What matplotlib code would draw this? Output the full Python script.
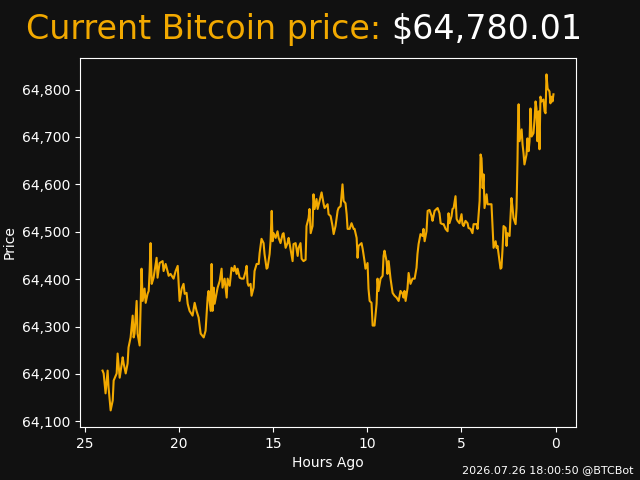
import matplotlib
matplotlib.use("Agg")
import matplotlib.pyplot as plt
from matplotlib.ticker import FuncFormatter

BG = "#111111"
ORANGE = "#f2a900"

current_price = 64780.01
stamp = "2026.07.26 18:00:50 @BTCBot"

# hours ago / price
hours_ago = [
    24.05, 23.99, 23.89, 23.78, 23.73, 23.62, 23.51, 23.46, 23.30, 23.25,
    23.14, 22.98, 22.93, 22.82, 22.72, 22.67, 22.56, 22.45, 22.40, 22.35,
    22.24, 22.19, 22.08, 21.98, 21.92, 21.82, 21.76, 21.66, 21.60, 21.55,
    21.50, 21.44, 21.34, 21.18, 21.13, 21.02, 20.86, 20.81, 20.70, 20.60,
    20.54, 20.44, 20.28, 20.17, 20.06, 20.01, 19.96, 19.85, 19.75, 19.69,
    19.59, 19.53, 19.43, 19.27, 19.16, 19.06, 18.95, 18.84, 18.68, 18.58,
    18.47, 18.42, 18.31, 18.26, 18.21, 18.15, 18.10, 17.94, 17.83, 17.73,
    17.68, 17.57, 17.46, 17.41, 17.30, 17.20, 17.09, 17.04, 16.93, 16.88,
    16.77, 16.67, 16.56, 16.45, 16.40, 16.35, 16.30, 16.19, 16.14, 16.03,
    15.98, 15.87, 15.76, 15.71, 15.61, 15.50, 15.45, 15.34, 15.29, 15.18,
    15.13, 15.07, 15.02, 14.97, 14.86, 14.76, 14.70, 14.60, 14.49, 14.44,
    14.33, 14.23, 14.17, 14.07, 13.96, 13.91, 13.80, 13.69, 13.64, 13.54,
    13.48, 13.38, 13.27, 13.22, 13.11, 13.06, 13.00, 12.90, 12.85, 12.79,
    12.69, 12.63, 12.53, 12.42, 12.31, 12.26, 12.10, 12.05, 11.94, 11.84,
    11.78, 11.68, 11.57, 11.52, 11.41, 11.31, 11.25, 11.15, 11.09, 11.04,
    10.93, 10.83, 10.72, 10.67, 10.56, 10.51, 10.46, 10.30, 10.24, 10.14,
    10.09, 9.98, 9.93, 9.87, 9.77, 9.71, 9.61, 9.50, 9.45, 9.40,
    9.29, 9.18, 9.13, 9.08, 8.97, 8.92, 8.86, 8.76, 8.65, 8.55,
    8.44, 8.33, 8.23, 8.12, 8.07, 8.02, 7.96, 7.86, 7.80, 7.70,
    7.59, 7.48, 7.38, 7.33, 7.27, 7.17, 7.06, 7.01, 6.95, 6.85,
    6.79, 6.69, 6.58, 6.53, 6.42, 6.32, 6.26, 6.16, 6.10, 6.00,
    5.94, 5.84, 5.73, 5.68, 5.63, 5.52, 5.47, 5.41, 5.31, 5.25,
    5.20, 5.10, 4.99, 4.94, 4.88, 4.78, 4.67, 4.62, 4.51, 4.41,
    4.35, 4.19, 4.14, 4.03, 3.98, 3.93, 3.87, 3.82, 3.77, 3.66,
    3.61, 3.50, 3.40, 3.34, 3.29, 3.18, 3.13, 3.08, 2.97, 2.92,
    2.87, 2.81, 2.76, 2.65, 2.60, 2.55, 2.44, 2.39, 2.34, 2.28,
    2.23, 2.12, 2.07, 2.02, 1.99, 1.96, 1.91, 1.80, 1.75, 1.70,
    1.65, 1.54, 1.49, 1.43, 1.38, 1.33, 1.27, 1.17, 1.11, 1.06,
    1.01, 0.96, 0.90, 0.85, 0.80, 0.74, 0.64, 0.58, 0.53, 0.48,
    0.42, 0.32, 0.27, 0.21, 0.16, 0.11,
]
prices = [
    64207, 64201, 64159, 64207, 64171, 64123, 64144, 64186, 64201, 64243,
    64192, 64235, 64222, 64201, 64222, 64256, 64277, 64323, 64277, 64285,
    64354, 64285, 64260, 64422, 64354, 64380, 64350, 64369, 64375, 64417,
    64476, 64390, 64403, 64445, 64403, 64434, 64438, 64417, 64432, 64417,
    64407, 64411, 64401, 64417, 64428, 64390, 64354, 64380, 64390, 64369,
    64371, 64348, 64333, 64323, 64350, 64333, 64319, 64285, 64277, 64291,
    64361, 64375, 64333, 64432, 64333, 64382, 64348, 64382, 64396, 64422,
    64382, 64401, 64361, 64401, 64386, 64424, 64417, 64428, 64411, 64422,
    64403, 64401, 64401, 64417, 64428, 64392, 64386, 64390, 64365, 64382,
    64417, 64432, 64432, 64455, 64485, 64476, 64453, 64422, 64424, 64453,
    64480, 64544, 64480, 64497, 64487, 64501, 64487, 64476, 64495, 64497,
    64466, 64476, 64487, 64464, 64438, 64474, 64476, 64449, 64466, 64476,
    64443, 64438, 64441, 64512, 64529, 64548, 64497, 64512, 64579, 64548,
    64569, 64548, 64565, 64583, 64558, 64550, 64558, 64537, 64533, 64512,
    64495, 64512, 64544, 64550, 64554, 64600, 64565, 64560, 64537, 64506,
    64506, 64518, 64506, 64506, 64487, 64445, 64470, 64476, 64464, 64438,
    64422, 64434, 64380, 64354, 64350, 64302, 64302, 64348, 64401, 64375,
    64401, 64407, 64449, 64460, 64438, 64411, 64438, 64401, 64371, 64365,
    64361, 64354, 64375, 64369, 64361, 64375, 64354, 64380, 64413, 64390,
    64401, 64401, 64424, 64453, 64474, 64495, 64491, 64506, 64480, 64501,
    64544, 64546, 64533, 64523, 64544, 64548, 64550, 64539, 64518, 64516,
    64516, 64506, 64501, 64539, 64518, 64533, 64548, 64550, 64575, 64527,
    64523, 64518, 64537, 64516, 64512, 64523, 64518, 64508, 64506, 64497,
    64516, 64516, 64506, 64565, 64663, 64655, 64592, 64621, 64550, 64579,
    64558, 64558, 64558, 64506, 64466, 64480, 64466, 64470, 64438, 64422,
    64424, 64466, 64512, 64508, 64470, 64497, 64491, 64529, 64571, 64550,
    64529, 64516, 64550, 64649, 64729, 64769, 64691, 64716, 64684, 64666,
    64642, 64663, 64697, 64670, 64691, 64760, 64701, 64708, 64739, 64775,
    64760, 64691, 64754, 64674, 64785, 64775, 64779, 64754, 64750, 64832,
    64802, 64796, 64771, 64785, 64775, 64790,
]

plt.rcParams['font.family'] = 'DejaVu Sans'
fig, ax = plt.subplots(figsize=(6.4, 4.8), dpi=100)
fig.patch.set_facecolor(BG)
ax.set_facecolor(BG)

ax.plot(hours_ago, prices, color=ORANGE, linewidth=1.5)
ax.invert_xaxis()

ax.yaxis.set_major_formatter(FuncFormatter(lambda v, p: "{:,.0f}".format(v)))
ax.set_xlabel("Hours Ago", color="white")
ax.set_ylabel("Price", color="white")
ax.tick_params(colors="white")
for s in ax.spines.values():
    s.set_color("white")

# title in two colours
fig.canvas.draw()
r = fig.canvas.get_renderer()
t1 = fig.text(0.04, 0.918, "Current Bitcoin price: ", color=ORANGE,
              fontsize=24, va="baseline")
bb = t1.get_window_extent(renderer=r)
x2 = bb.x1 / fig.bbox.width
fig.text(x2, 0.918, "${:,.2f}".format(current_price), color="white",
         fontsize=24, va="baseline")

fig.text(0.99, 0.01, stamp, color="white", fontsize=8, ha="right", va="bottom")

fig.savefig("out.png", facecolor=BG)
